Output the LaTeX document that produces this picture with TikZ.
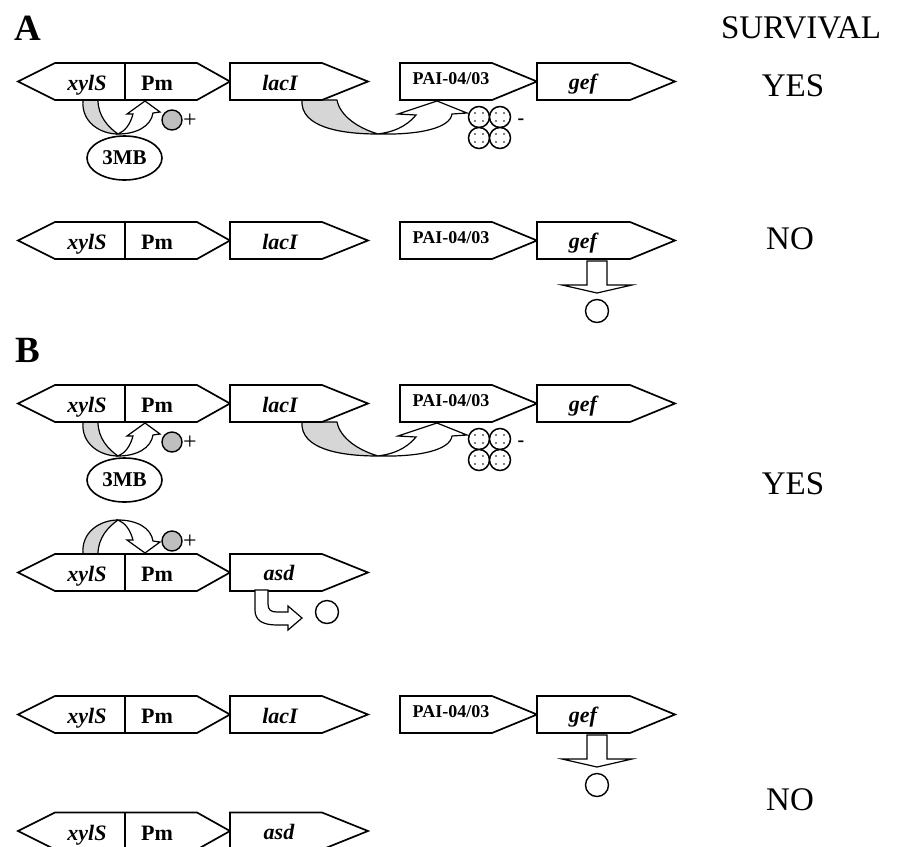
\documentclass[tikz,border=0pt]{standalone}
\usepackage{fontspec}
\setmainfont{Liberation Serif}
\usetikzlibrary{shapes.geometric}
\newcommand{\fsz}[1]{\fontsize{#1}{#1}\selectfont}
\tikzset{
  gene/.style={draw, line width=1.7pt, fill=white, line join=miter},
  divider/.style={draw, line width=1.7pt},
  ilbl/.style={font=\fsz{22}\bfseries\itshape, anchor=base, inner sep=0pt},
  blbl/.style={font=\fsz{22}\bfseries, anchor=base, inner sep=0pt},
  plbl/.style={font=\fsz{18}\bfseries, anchor=base, inner sep=0pt},
  panel/.style={font=\fsz{37}\bfseries, inner sep=0pt},
  survtxt/.style={font=\fsz{33}, inner sep=0pt},
  horn/.style={draw, line width=1.2pt, fill=gray!32, line join=round},
  warrow/.style={draw, line width=1.2pt, fill=white, line join=miter},
  graydot/.style={draw, line width=1.4pt, fill=gray!50},
  wcirc/.style={draw, line width=1.4pt, fill=white},
  signtxt/.style={font=\fsz{24}, inner sep=0pt},
  minustxt/.style={font=\fsz{20}\bfseries, inner sep=0pt},
  molec/.style={font=\fsz{21}\bfseries, draw, line width=1.6pt, ellipse, minimum width=75pt, minimum height=44pt, inner sep=0pt}
}
% xylS|Pm double box at centre y #1, names prefixed #2
\newcommand{\xylpm}[2]{%
  \draw[gene] (18,#1) -- (55,#1-18.5) -- (197,#1-18.5) -- (230,#1) -- (197,#1+18.5) -- (55,#1+18.5) -- cycle;
  \draw[divider] (125,#1-18.5) -- (125,#1+18.5);
  \node[ilbl] (#2x) at (87,#1+9) {xylS};
  \node[blbl] (#2p) at (157,#1+9) {Pm};}
% right-pointing gene: #1 centre y, #2 left x, #3 corner x, #4 tip x
\newcommand{\rgene}[4]{%
  \draw[gene] (#2,#1-18.5) -- (#3,#1-18.5) -- (#4,#1) -- (#3,#1+18.5) -- (#2,#1+18.5) -- cycle;}
% activation motif below xylS|Pm (drawn for row centre 81.5)
\newcommand{\actmotif}{%
  \draw[horn] (83,100) .. controls (81,122) and (100,134) .. (118,134) .. controls (108,127) and (98,116) .. (98,100) -- cycle;
  \draw[warrow] (118,134) .. controls (137,134) and (151,126) .. (153,113) -- (160,112) -- (145,101) -- (127,114) -- (133,114) .. controls (130,125) and (125,131) .. (118,134) -- cycle;}
% repression motif lacI -> PAI (row centre 81.5)
\newcommand{\repmotif}{%
  \draw[horn] (302,100) .. controls (300,127) and (340,134) .. (378,134) .. controls (358,128) and (340,116) .. (337,100) -- cycle;
  \draw[warrow] (378,134) .. controls (420,135) and (450,128) .. (452,114) -- (467,113) -- (437,101) -- (398,114) -- (416,115) .. controls (405,128) and (392,132) .. (378,134) -- cycle;}
% tetramer of repressor
\newcommand{\tetra}[1]{%
  \foreach \cx/\cy in {479/117,500/117,479/138,500/138}{
    \draw[line width=1.5pt, fill=white] (\cx,\cy) circle (10.5);
    \foreach \dx/\dy in {-4/-4,4/-4,-4/4,4/4}{\fill (\cx+\dx,\cy+\dy) circle (0.9);}
  }
  \node[minustxt] (#1m) at (521,122) {-};}
% gef down arrow and product
\newcommand{\gefout}[1]{%
  \draw[warrow] (587,261) -- (607,261) -- (607,285) -- (632,285) -- (597,293) -- (562,285) -- (587,285) -- cycle;
  \node[wcirc, circle, minimum size=23pt, inner sep=0pt] (#1) at (597,311) {};}
\begin{document}
\begin{tikzpicture}[x=1pt,y=-1pt]
\useasboundingbox (0,0) rectangle (901,846);
\clip (0,0) rectangle (901,846);

% ---------- labels ----------
\node[panel] (pA) at (28,28) {A};
\node[panel] (pB) at (28,350) {B};
\node[survtxt] (surv) at (801,28) {SURVIVAL};
\node[survtxt] (yesA) at (793,85.5) {YES};
\node[survtxt] (noA) at (790,239) {NO};
\node[survtxt] (yesB) at (793,484) {YES};
\node[survtxt] (noB) at (790,800) {NO};

% ---------- A row 1 ----------
\actmotif
\repmotif
\xylpm{81.5}{a1}
\rgene{81.5}{230}{322}{368}
\node[ilbl] (a1l) at (280,90.5) {lacI};
\rgene{81.5}{400}{492}{537}
\node[plbl] (a1pai) at (451,84) {PAI-04/03};
\rgene{81.5}{537}{630}{675}
\node[ilbl] (a1g) at (583,89) {gef};
\node[molec] (a1mb) at (124.5,158) {3MB};
\node[graydot, circle, minimum size=20pt, inner sep=0pt] (a1d) at (172,120) {};
\node[signtxt] (a1s) at (190,121) {+};
\tetra{a1}

% ---------- A row 2 ----------
\xylpm{240.5}{a2}
\rgene{240.5}{230}{322}{368}
\node[ilbl] (a2l) at (280,249.5) {lacI};
\rgene{240.5}{400}{492}{537}
\node[plbl] (a2pai) at (451,243) {PAI-04/03};
\rgene{240.5}{537}{630}{675}
\node[ilbl] (a2g) at (583,248) {gef};
\gefout{a2o}

% ---------- B row 1 ----------
\begin{scope}[shift={(0,322)}]
\actmotif
\repmotif
\xylpm{81.5}{b1}
\rgene{81.5}{230}{322}{368}
\node[ilbl] (b1l) at (280,90.5) {lacI};
\rgene{81.5}{400}{492}{537}
\node[plbl] (b1pai) at (451,84) {PAI-04/03};
\rgene{81.5}{537}{630}{675}
\node[ilbl] (b1g) at (583,89) {gef};
\node[molec] (b1mb) at (124.5,158) {3MB};
\node[graydot, circle, minimum size=20pt, inner sep=0pt] (b1d) at (172,120) {};
\node[signtxt] (b1s) at (190,121) {+};
\tetra{b1}
\end{scope}

% ---------- B row 2 ----------
\begin{scope}[shift={(0,654)}, yscale=-1]
\actmotif
\end{scope}
\xylpm{572.5}{b2}
\rgene{572.5}{230}{322}{368}
\node[ilbl] (b2a) at (279,580.5) {asd};
\node[graydot, circle, minimum size=20pt, inner sep=0pt] (b2d) at (172,541) {};
\node[signtxt] (b2s) at (190,542) {+};
\draw[warrow] (255,590) -- (255,610) .. controls (255,620) and (262,625) .. (277,625) -- (288,625) -- (288,630) -- (302,618) -- (288,606) -- (288,612) -- (277,612) .. controls (271,612) and (268,610) .. (268,604) -- (268,590) -- cycle;
\node[wcirc, circle, minimum size=23pt, inner sep=0pt] (b2o) at (327,612) {};

% ---------- B row 3 ----------
\begin{scope}[shift={(0,474)}]
\xylpm{240.5}{b3}
\rgene{240.5}{230}{322}{368}
\node[ilbl] (b3l) at (280,249.5) {lacI};
\rgene{240.5}{400}{492}{537}
\node[plbl] (b3pai) at (451,243) {PAI-04/03};
\rgene{240.5}{537}{630}{675}
\node[ilbl] (b3g) at (583,248) {gef};
\gefout{b3o}
\end{scope}

% ---------- B row 4 ----------
\xylpm{831}{b4}
\rgene{831}{230}{322}{368}
\node[ilbl] (b4a) at (279,839) {asd};
\end{tikzpicture}
\end{document}
